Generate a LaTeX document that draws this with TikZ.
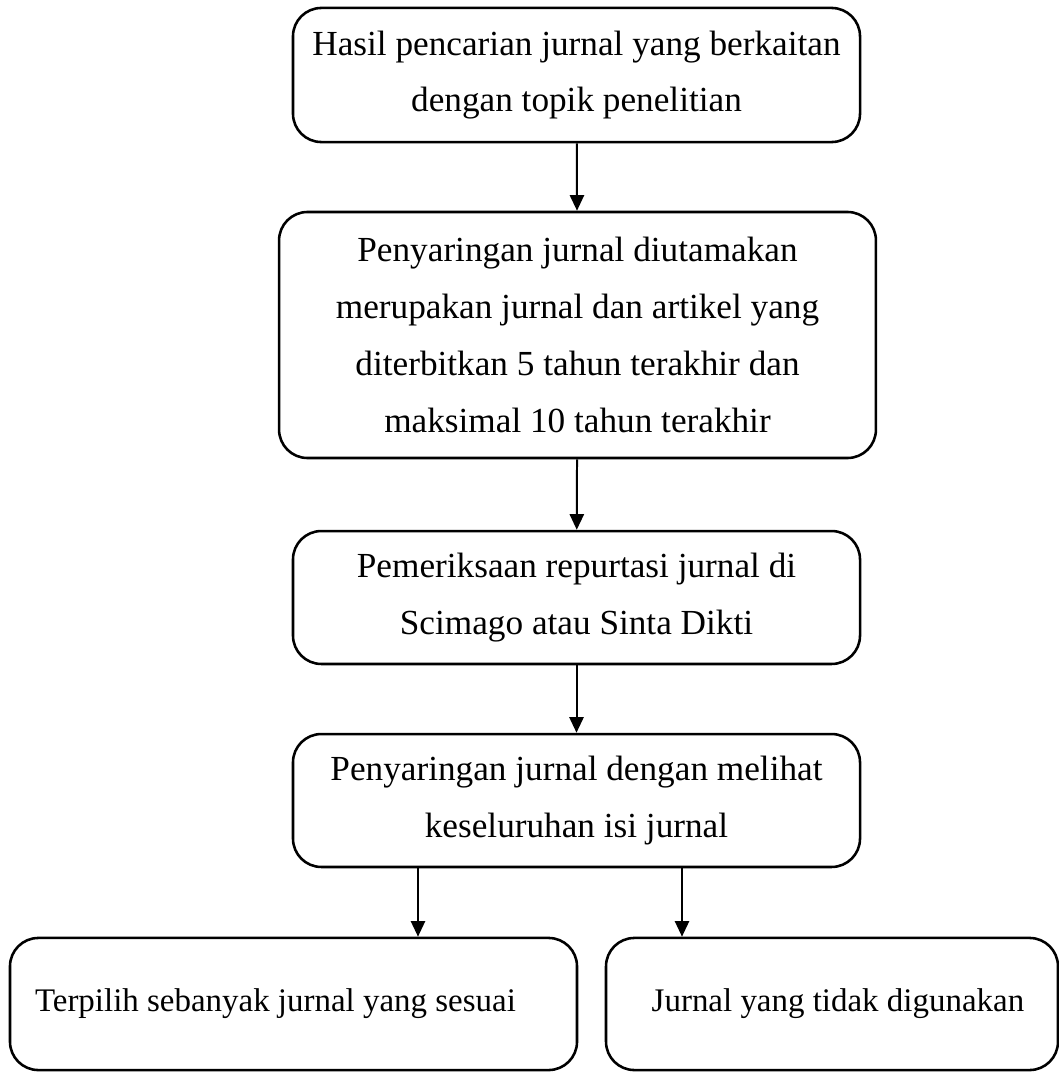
\documentclass[tikz,border=0pt]{standalone}
\usepackage{fontspec}
\setmainfont{Liberation Serif}
\usetikzlibrary{arrows.meta}

\tikzset{
  stepbox/.style={draw, line width=0.9pt, rounded corners=10pt, align=center,
    font=\fontsize{12.4}{20}\selectfont, inner sep=0pt},
  endbox/.style={stepbox, font=\fontsize{11.6}{20}\selectfont},
  arr/.style={line width=0.7pt, -{Triangle[length=5.5pt,width=5pt]}}
}

\begin{document}
\begin{tikzpicture}[x=0.352pt, y=-0.352pt]
    \useasboundingbox (0,0) rectangle (1059,1072);

    \node[stepbox, minimum width=199.6pt, minimum height=47.2pt] (hasil) at (576.5,75)
      {Hasil pencarian jurnal yang berkaitan\\dengan topik penelitian};
    \node[stepbox, minimum width=210.1pt, minimum height=86.6pt] (saring) at (577.5,335)
      {Penyaringan jurnal diutamakan\\merupakan jurnal dan artikel yang\\diterbitkan 5 tahun terakhir dan\\maksimal 10 tahun terakhir};
    \node[stepbox, minimum width=199.6pt, minimum height=46.8pt] (periksa) at (576.5,597.5)
      {Pemeriksaan repurtasi jurnal di\\Scimago atau Sinta Dikti};
    \node[stepbox, minimum width=199.6pt, minimum height=46.8pt] (isi) at (576.5,800.5)
      {Penyaringan jurnal dengan melihat\\keseluruhan isi jurnal};
    \node[endbox, minimum width=199.6pt, minimum height=46.5pt] (pilih) at (293.5,1004)
      {Terpilih sebanyak jurnal yang sesuai\hspace{12.7pt}};
    \node[endbox, minimum width=159.1pt, minimum height=46.5pt] (tolak) at (832,1004)
      {\hspace{4.2pt}Jurnal yang tidak digunakan};

    \draw[arr] (hasil) -- (saring);
    \draw[arr] (saring) -- (periksa);
    \draw[arr] (periksa) -- (isi);

    % two branches out of the last check
    \coordinate (kiri) at (418,867.2);
    \coordinate (kanan) at (682,867.2);
    \draw[arr] (kiri) -- (kiri |- pilih.north);
    \draw[arr] (kanan) -- (kanan |- tolak.north);
\end{tikzpicture}
\end{document}
